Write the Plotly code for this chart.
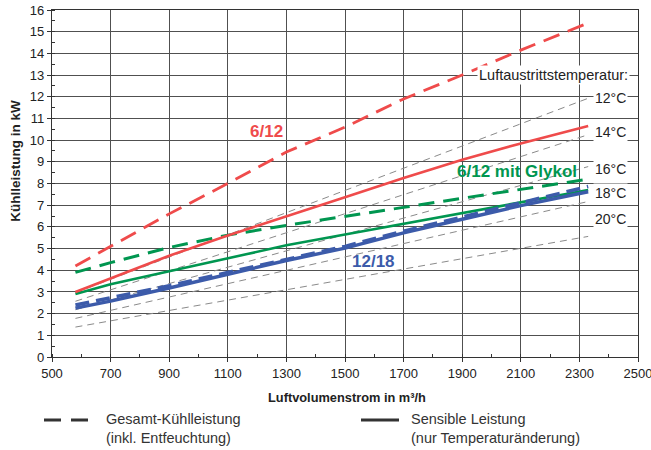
import plotly.graph_objects as go

# ---------------- data ----------------
airflow = [580, 700, 900, 1100, 1300, 1500, 1700, 1900, 2100, 2330]

red_total = [4.2, 5.1, 6.6, 8.0, 9.45, 10.6, 11.9, 13.0, 14.15, 15.4]
red_sensible = [3.0, 3.63, 4.67, 5.6, 6.5, 7.37, 8.25, 9.1, 9.85, 10.65]
green_total = [3.9, 4.35, 5.05, 5.62, 6.07, 6.5, 6.9, 7.32, 7.72, 8.2]
green_sensible = [2.9, 3.35, 3.95, 4.55, 5.15, 5.65, 6.15, 6.65, 7.15, 7.7]
blue_total = [2.4, 2.72, 3.28, 3.9, 4.52, 5.1, 5.8, 6.45, 7.12, 7.86]
blue_sensible = [2.25, 2.58, 3.18, 3.82, 4.45, 5.02, 5.72, 6.35, 6.98, 7.62]

iso_x = [580, 2330]
iso_labels = ["12°C", "14°C", "16°C", "18°C", "20°C"]
iso_values = [
    [2.97, 11.93],
    [2.57, 10.25],
    [2.18, 8.78],
    [1.78, 7.17],
    [1.38, 5.56],
]
iso_label_y = [11.96, 10.36, 8.67, 7.56, 6.36]

x_ticks = [500, 700, 900, 1100, 1300, 1500, 1700, 1900, 2100, 2300, 2500]
y_ticks = list(range(0, 17))

legend_labels = ["Gesamt-Kühlleistung<br>(inkl. Entfeuchtung)",
                 "Sensible Leistung<br>(nur Temperaturänderung)"]

RED = "#EF4B4B"
GREEN = "#009650"
BLUE = "#3C5BAA"
FONT = "Liberation Sans, Arial, sans-serif"

# the page's default 8px body margin is removed by a small post script
PAGE_OFF = 0
W, H = 651, 450
ML, MR, MT, MB = 52, 13, 10, 93
PW, PH = W - ML - MR, H - MT - MB


def px(xpage):
    return (xpage - PAGE_OFF - ML) / PW


def py(ypage):
    return (H - MB - (ypage - PAGE_OFF)) / PH


fig = go.Figure()

for vals in iso_values:
    fig.add_trace(go.Scatter(x=iso_x, y=vals, mode="lines", showlegend=False,
                             line=dict(color="#8a8a8a", width=1, dash="7px,5px"),
                             hoverinfo="skip"))

fig.add_trace(go.Scatter(x=airflow, y=green_total, mode="lines", showlegend=False,
                         line=dict(color=GREEN, width=3, dash="16px,9px")))
fig.add_trace(go.Scatter(x=airflow, y=green_sensible, mode="lines", showlegend=False,
                         line=dict(color=GREEN, width=2.6)))
fig.add_trace(go.Scatter(x=airflow, y=red_total, mode="lines", showlegend=False,
                         line=dict(color=RED, width=2.8, dash="17px,9px")))
fig.add_trace(go.Scatter(x=airflow, y=red_sensible, mode="lines", showlegend=False,
                         line=dict(color=RED, width=2.6)))
fig.add_trace(go.Scatter(x=airflow, y=blue_sensible, mode="lines", showlegend=False,
                         line=dict(color=BLUE, width=3.4)))
fig.add_trace(go.Scatter(x=airflow, y=blue_total, mode="lines", showlegend=False,
                         line=dict(color=BLUE, width=3.6, dash="14px,7px")))

annotations = []
annotations.append(dict(x=1232, y=10.42, text="<b>6/12</b>", showarrow=False,
                        font=dict(size=17, color=RED, family=FONT)))
annotations.append(dict(x=2086, y=8.54, text="<b>6/12 mit Glykol</b>", showarrow=False,
                        font=dict(size=17, color=GREEN, family=FONT)))
annotations.append(dict(x=1598, y=4.41, text="<b>12/18</b>", showarrow=False,
                        font=dict(size=17, color=BLUE, family=FONT)))
annotations.append(dict(x=2473, y=13.0, text="Luftaustrittstemperatur:", showarrow=False,
                        xanchor="right", bgcolor="white", borderpad=1,
                        font=dict(size=14.5, color="#222222", family=FONT)))
for lab, yy in zip(iso_labels, iso_label_y):
    annotations.append(dict(x=2466, y=yy, text=lab, showarrow=False, xanchor="right",
                            bgcolor="white", borderpad=1,
                            font=dict(size=14, color="#222222", family=FONT)))
annotations.append(dict(x=px(14.7), y=py(161), xref="paper", yref="paper",
                        xanchor="center", yanchor="middle",
                        text="<b>Kühlleistung in kW</b>", textangle=-90, showarrow=False,
                        font=dict(size=13.5, color="#222222", family=FONT)))
annotations.append(dict(x=px(347), y=py(397), xref="paper", yref="paper",
                        xanchor="center", yanchor="middle",
                        text="<b>Luftvolumenstrom in m³/h</b>", showarrow=False,
                        font=dict(size=12.8, color="#222222", family=FONT)))

# legend key (line style explanation)
shapes = [
    dict(type="line", xref="paper", yref="paper", x0=px(44), x1=px(88), y0=py(420), y1=py(420),
         line=dict(color="#333333", width=3, dash="17px,10px")),
    dict(type="line", xref="paper", yref="paper", x0=px(361), x1=px(399), y0=py(420), y1=py(420),
         line=dict(color="#333333", width=3)),
]
annotations.append(dict(x=px(104), y=py(428), xref="paper", yref="paper", xanchor="left",
                        yanchor="middle", align="left", text=legend_labels[0], showarrow=False,
                        font=dict(size=14.5, color="#333333", family=FONT)))
annotations.append(dict(x=px(409), y=py(428), xref="paper", yref="paper", xanchor="left",
                        yanchor="middle", align="left", text=legend_labels[1], showarrow=False,
                        font=dict(size=14.5, color="#333333", family=FONT)))

fig.update_layout(
    width=W, height=H,
    margin=dict(l=ML, r=MR, t=MT, b=MB, autoexpand=False),
    paper_bgcolor="white", plot_bgcolor="white",
    font=dict(family=FONT, size=13, color="#222222"),
    annotations=annotations,
    shapes=shapes,
    showlegend=False,
)

fig.update_xaxes(range=[500, 2500], tickvals=x_ticks, ticktext=[str(v) for v in x_ticks],
                 automargin=False, ticklabeloverflow="allow",
                 showgrid=True, gridcolor="#505050", gridwidth=1.3,
                 showline=True, linecolor="#333333", linewidth=1.3, mirror=True,
                 ticks="outside", ticklen=4, tickcolor="#333333",
                 tickfont=dict(size=13, color="#222222"),
                 minor=dict(ticks="inside", dtick=100, tick0=500, ticklen=3,
                            tickcolor="#333333", showgrid=False),
                 zeroline=False)
fig.update_yaxes(range=[0, 16], tickvals=y_ticks, automargin=False, ticklabeloverflow="allow",
                 showgrid=True, gridcolor="#505050", gridwidth=1.3,
                 showline=True, linecolor="#333333", linewidth=1.3, mirror=True,
                 ticks="outside", ticklen=4, tickcolor="#333333",
                 tickfont=dict(size=13, color="#222222"),
                 minor=dict(ticks="inside", dtick=0.5, ticklen=3,
                            tickcolor="#333333", showgrid=False),
                 zeroline=False)

fig.write_html("out.html", config={"displayModeBar": False},
               post_script="document.body.style.margin='0';document.body.style.overflow='hidden';")
